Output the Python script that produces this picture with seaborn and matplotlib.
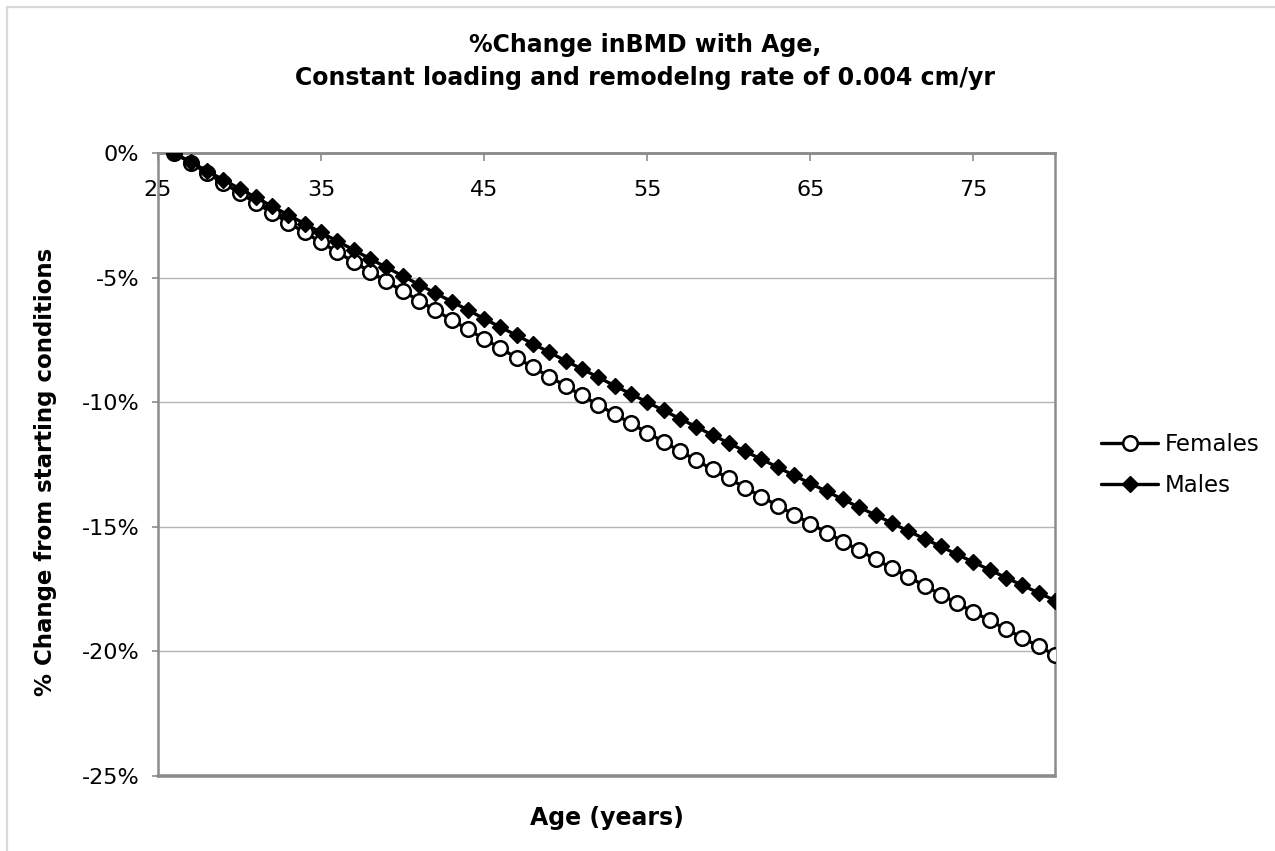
import numpy as np
import pandas as pd
import matplotlib
matplotlib.use("Agg")
import matplotlib.pyplot as plt
from matplotlib.lines import Line2D
import seaborn as sns

ages = list(range(26, 81))
females = [0.00, -0.40, -0.80, -1.20, -1.60, -2.00, -2.40, -2.80, -3.19, -3.58,
           -3.98, -4.37, -4.76, -5.15, -5.54, -5.92, -6.31, -6.69, -7.08, -7.46,
           -7.84, -8.22, -8.60, -8.98, -9.35, -9.73, -10.11, -10.48, -10.85, -11.22,
           -11.59, -11.96, -12.33, -12.70, -13.06, -13.43, -13.79, -14.15, -14.51, -14.87,
           -15.23, -15.59, -15.95, -16.30, -16.66, -17.01, -17.36, -17.72, -18.07, -18.41,
           -18.76, -19.11, -19.45, -19.80, -20.14]
males = [0.00, -0.36, -0.72, -1.07, -1.43, -1.78, -2.14, -2.49, -2.84, -3.19,
         -3.54, -3.89, -4.24, -4.59, -4.93, -5.28, -5.62, -5.96, -6.30, -6.65,
         -6.99, -7.32, -7.66, -8.00, -8.34, -8.67, -9.00, -9.34, -9.67, -10.00,
         -10.33, -10.66, -10.99, -11.32, -11.64, -11.97, -12.29, -12.61, -12.94, -13.26,
         -13.58, -13.90, -14.22, -14.53, -14.85, -15.17, -15.48, -15.79, -16.11, -16.42,
         -16.73, -17.04, -17.35, -17.65, -17.96]
x_ticks = [25, 35, 45, 55, 65, 75]
y_ticks = [0, -5, -10, -15, -20, -25]
series_names = ["Females", "Males"]
title_lines = ["%Change inBMD with Age,", "Constant loading and remodelng rate of 0.004 cm/yr"]

df = pd.DataFrame({"Age": ages, "Females": females, "Males": males})

sns.set_theme(style="white")
plt.rcParams["font.family"] = ["DejaVu Sans"]
plt.rcParams["axes.unicode_minus"] = False
plt.rcParams["text.color"] = "black"

W, H = 1275, 851
fig = plt.figure(figsize=(W / 100, H / 100), dpi=100)
fig.patch.set_facecolor("white")
ax = fig.add_axes([158 / W, 1 - 776 / H, (1055 - 158) / W, (776 - 153) / H])

grid_c = "#b4b4b4"
spine_c = "#8c8c8c"
for yv in y_ticks[1:-1]:
    ax.axhline(yv, color=grid_c, lw=1.0, zorder=0)

sns.lineplot(data=df, x="Age", y="Females", ax=ax, color="black", lw=2.4,
             marker="o", markersize=10.5, markerfacecolor="white",
             markeredgecolor="black", markeredgewidth=1.8, zorder=3)
sns.lineplot(data=df, x="Age", y="Males", ax=ax, color="black", lw=2.4,
             marker="D", markersize=8.5, markerfacecolor="black",
             markeredgecolor="black", markeredgewidth=1.0, zorder=4)

ax.set_xlim(25, 80)
ax.set_ylim(-25, 0)
ax.set_xticks(x_ticks)
ax.set_xticklabels([str(v) for v in x_ticks])
ax.set_yticks(y_ticks)
ax.set_yticklabels([f"{v}%" for v in y_ticks])

# x-axis crosses at 0 (top of plot), labels below it
ax.spines["bottom"].set_position(("data", 0))
for s in ["bottom", "top", "left", "right"]:
    ax.spines[s].set_color(spine_c)
    ax.spines[s].set_linewidth(1.8)
ax.axhline(-25, color=spine_c, lw=2.6, zorder=1, clip_on=False)

ax.tick_params(axis="x", direction="out", length=5.5, width=1.2, color=spine_c,
               pad=14, labelsize=16, bottom=True, top=False, labelcolor="black")
ax.tick_params(axis="y", direction="out", length=4.5, width=1.2, color=spine_c,
               pad=9, labelsize=16, left=True, labelcolor="black")

ax.set_xlabel("")
ax.set_ylabel("")
fig.text(607 / W, 1 - 818 / H, "Age (years)", ha="center", va="center",
         fontsize=17, fontweight="bold", color="black")
fig.text(46 / W, 1 - 472 / H, "% Change from starting conditions", ha="center",
         va="center", rotation=90, fontsize=16.5, fontweight="bold", color="black")
fig.text(645 / W, 1 - 45 / H, title_lines[0], ha="center", va="center",
         fontsize=17, fontweight="bold", color="black")
fig.text(645 / W, 1 - 78 / H, title_lines[1], ha="center", va="center",
         fontsize=17, fontweight="bold", color="black")

handles = [
    Line2D([], [], color="black", lw=2.4, marker="o", markersize=10.5,
           markerfacecolor="white", markeredgecolor="black", markeredgewidth=1.8),
    Line2D([], [], color="black", lw=2.4, marker="D", markersize=8.5,
           markerfacecolor="black", markeredgecolor="black"),
]
leg = ax.legend(handles, series_names, loc="center left",
                bbox_to_anchor=(1101 / W, 1 - 465 / H), bbox_transform=fig.transFigure,
                frameon=False, fontsize=16.5, handlelength=2.5, handletextpad=0.3,
                labelspacing=0.75, borderaxespad=0, borderpad=0)
for t in leg.get_texts():
    t.set_color("black")

# figure frame (top and left edges)
fig.add_artist(Line2D([7 / W, 1.01], [1 - 7 / H, 1 - 7 / H], transform=fig.transFigure,
                      color="#d9d9d9", lw=1.6))
fig.add_artist(Line2D([7 / W, 7 / W], [-0.01, 1 - 7 / H], transform=fig.transFigure,
                      color="#d9d9d9", lw=1.6))

fig.savefig("out.png", dpi=100, facecolor="white")
